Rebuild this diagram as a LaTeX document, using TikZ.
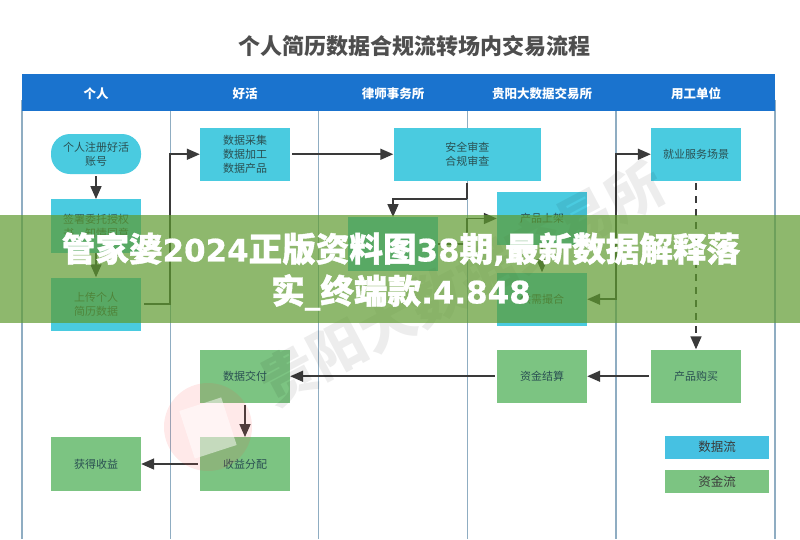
\documentclass[tikz,border=0pt]{standalone}
\usepackage{fontspec}
\setmainfont{Noto Sans CJK SC}
\newfontfamily\bannerfont[BoldFeatures={FakeBold=1.2}]{Noto Sans CJK SC}
\newfontfamily\latinbold[Scale=0.92,FakeBold=0.6]{DejaVu Sans Bold}
\usetikzlibrary{arrows.meta}
\definecolor{headblue}{HTML}{1A73CE}
\definecolor{databox}{HTML}{4ACBE0}
\definecolor{fundbox}{HTML}{7CC482}
\definecolor{laneline}{HTML}{8FADC2}
\definecolor{flowline}{HTML}{3A3A3A}
\definecolor{boxtext}{HTML}{2A5052}
\definecolor{bannergreen}{HTML}{5F9B30}
\tikzset{
  x=1pt,y=-1pt,
  tip/.tip={Triangle[length=13pt,width=11pt]},
  flow/.style={draw=flowline,line width=1.6pt,-tip},
  lane/.style={draw=laneline,line width=1.3pt},
  boxbase/.style={minimum width=90pt,minimum height=53.5pt,inner sep=0pt,align=center,text=boxtext,font=\fontsize{11}{14}\selectfont},
  datanode/.style={boxbase,fill=databox},
  fundnode/.style={boxbase,fill=fundbox},
  headlabel/.style={text=white,font=\fontsize{12.5}{15}\selectfont\bfseries},
  legendnode/.style={minimum width=104pt,minimum height=23pt,inner sep=0pt,text=flowline,font=\fontsize{12.5}{14}\selectfont}
}
\begin{document}
\begin{tikzpicture}
	%%%%% START %%%%%
	\useasboundingbox (0,0) rectangle (800,539);
	\fill[white] (0,0) rectangle (800,539);

	\node[text=flowline!90,font=\fontsize{22}{26}\selectfont\bfseries] (title) at (414,46) {个人简历数据合规流转场内交易流程};

	% lanes
	\foreach \xpos in {22,170.5,318.5,467.5,616,775}
		\draw[lane] (\xpos,100) -- (\xpos,539);
	\fill[headblue] (22,74) rectangle (775,111);

	\node[headlabel] (personhead) at (96,93.5) {个人};
	\node[headlabel] (haohuohead) at (245,93.5) {好活};
	\node[headlabel] (lawyerhead) at (393,93.5) {律师事务所};
	\node[headlabel] (exchangehead) at (542,93.5) {贵阳大数据交易所};
	\node[headlabel] (employerhead) at (696,93.5) {用工单位};

	% boxes
	\node[datanode,rounded corners=19pt,minimum height=40pt] (register) at (96,154) {个人注册好活\\账号};
	\node[datanode] (sign) at (96,226) {签署委托授权\\书、知情同意};
	\node[datanode] (upload) at (96,304.25) {上传个人\\简历数据};
	\node[datanode] (collect) at (245,154.25) {数据采集\\数据加工\\数据产品};
	\node[datanode,minimum width=147.5pt] (review) at (467.25,154.25) {安全审查\\合规审查};
	\node[datanode] (scene) at (696,154.25) {就业服务场景};
	\node[datanode] (listing) at (542,218.5) {产品上架};
	\node[datanode] (filing) at (393,244) {};
	\node[datanode] (match) at (542,299.25) {供需撮合};
	\node[fundnode] (deliver) at (245,376.25) {数据交付};
	\node[fundnode] (settle) at (542,376.25) {资金结算};
	\node[fundnode] (buy) at (696,376.25) {产品购买};
	\node[fundnode] (share) at (245,464) {收益分配};
	\node[fundnode] (income) at (96,464) {获得收益};

	\node[legendnode,fill=databox!95!blue] (legenddata) at (717,447) {数据流};
	\node[legendnode,fill=fundbox] (legendfund) at (717,481.5) {资金流};

	% turning points on the lane lines
	\coordinate (bendupload) at (170.25,304.25);
	\coordinate (bendreview) at (467.25,199);
	\coordinate (bendfiling) at (467.25,244);
	\coordinate (bendmatch) at (616.25,299.25);

	\draw[flow,shorten <=2pt] (register.south) -- (sign.north);
	\draw[flow] (sign.south) -- (upload.north);
	\draw[flow,shorten <=3pt] (upload.east) -- (bendupload) |- (collect.west);
	\draw[flow,shorten <=2pt] (collect.east) -- (review.west);
	\draw[draw=flowline,line width=1.6pt,shorten <=2pt] (review.south -| bendreview) -- (bendreview);
	\draw[flow] (bendreview) -| (filing.north);
	\draw[flow] (filing.east) -- (bendfiling) |- (listing.west);
	\draw[flow] (listing.south) -- (match.north);
	\draw[flow,tip-tip] (match.east) -- (bendmatch) |- (scene.west);
	\draw[flow,dash pattern=on 7pt off 6pt,shorten <=2pt] (scene.south) -- (buy.north);
	\draw[flow,shorten <=2pt] (buy.west) -- (settle.east);
	\draw[flow,shorten <=2pt] (settle.west) -- (deliver.east);
	\draw[flow,shorten <=2pt] (deliver.south) -- (share.north);
	\draw[flow,shorten <=2pt] (share.west) -- (income.east);

	% watermark
	\fill[red!70!white,opacity=0.12] (208,427) circle (44);
	\node[fill=white,opacity=0.5,minimum width=44pt,minimum height=50pt,rotate=18] (logomark) at (208,428) {};
	\node[text=black,opacity=0.07,rotate=28,font=\fontsize{56}{60}\selectfont\bfseries] (stamp) at (461,283) {贵阳大数据交易所};

	% banner
	\fill[bannergreen,opacity=0.7] (0,215) rectangle (800,323);
	\node[text=white,align=center,font=\bannerfont\fontsize{33.6}{42}\selectfont\bfseries] (bannertext) at (401,271.5)
		{管家婆{\latinbold 2024}正版资料图{\latinbold 38}期{\latinbold ,}最新数据解释落\\实{\latinbold \_}终端款{\latinbold .4.848}};
	%%%%% END %%%%%
\end{tikzpicture}
\end{document}
